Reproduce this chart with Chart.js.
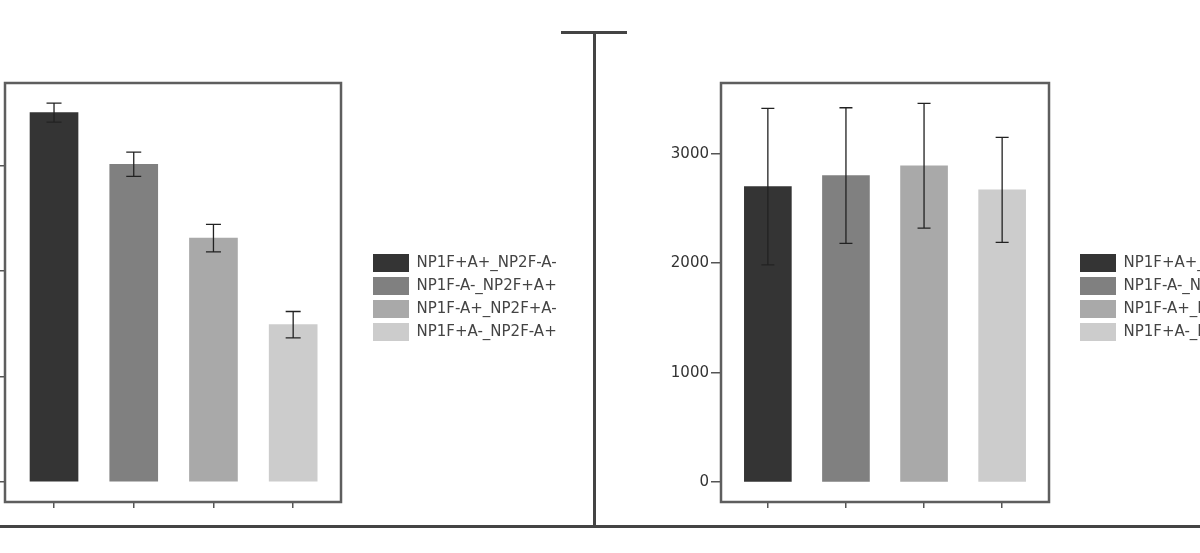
<!DOCTYPE html>
<html>
<head>
<meta charset="utf-8">
<script src="https://cdn.jsdelivr.net/npm/chart.js@4.4.1/dist/chart.umd.min.js"></script>
<style>
  html, body { margin: 0; padding: 0; background: #fff; }
  body { width: 1200px; height: 553px; overflow: hidden; position: relative; }
  canvas { position: absolute; top: 0; }
  #chartLeft { left: -70px; }
  #chartRight { left: 600px; }
  .rule { position: absolute; background: #444; }
</style>
</head>
<body>
<canvas id="chartLeft" width="650" height="553"></canvas>
<canvas id="chartRight" width="800" height="553"></canvas>
<div class="rule" style="left:561px;top:31px;width:66px;height:3px"></div>
<div class="rule" style="left:593px;top:31px;width:3px;height:496px"></div>
<div class="rule" style="left:0;top:525px;width:1200px;height:3px"></div>
<script>
// groupes (legende) et valeurs
const groups = ['NP1F+A+_NP2F-A-', 'NP1F-A-_NP2F+A+', 'NP1F-A+_NP2F+A-', 'NP1F+A-_NP2F-A+'];
const leftValues = [3500, 3010, 2310, 1490];
const leftErrors = [90, 115, 130, 125];
const rightValues = [2700, 2800, 2890, 2670];
const rightErrors = [715, 620, 570, 480];
const yTicks = [0, 1000, 2000, 3000];
const barColors = ['#343434', '#808080', '#a9a9a9', '#cccccc'];

Chart.defaults.font.family = "'DejaVu Sans', sans-serif";

// barres d'erreur (moyenne +/- erreur)
const errorBars = {
    id: 'errorBars',
    afterDatasetsDraw(chart, args, opts) {
        const { ctx } = chart;
        const y = chart.scales.y;
        ctx.save();
        ctx.strokeStyle = opts.color;
        ctx.lineWidth = opts.width;
        chart.data.datasets.forEach((ds, i) => {
            const bar = chart.getDatasetMeta(i).data[0];
            const v = ds.data[0].y;
            const e = ds.errors[0];
            const top = y.getPixelForValue(v + e);
            const bot = y.getPixelForValue(v - e);
            const h = opts.cap / 2;
            ctx.beginPath();
            ctx.moveTo(bar.x, top); ctx.lineTo(bar.x, bot);
            ctx.moveTo(bar.x - h, top); ctx.lineTo(bar.x + h, top);
            ctx.moveTo(bar.x - h, bot); ctx.lineTo(bar.x + h, bot);
            ctx.stroke();
        });
        ctx.restore();
    }
};

// cadre autour de la zone du graphique
const frame = {
    id: 'frame',
    afterDraw(chart, args, opts) {
        const { ctx, chartArea: a } = chart;
        ctx.save();
        ctx.strokeStyle = opts.color;
        ctx.lineWidth = opts.width;
        ctx.strokeRect(a.left, a.top, a.right - a.left, a.bottom - a.top);
        ctx.restore();
    }
};

function makeChart(id, values, errors, cfg) {
    const datasets = groups.map((g, i) => ({
        label: g,
        data: [{ x: i, y: values[i] }],
        errors: [errors[i]],
        backgroundColor: barColors[i],
        borderWidth: 0,
        barThickness: cfg.barWidth,
        grouped: false
    }));

    return new Chart(document.getElementById(id), {
        type: 'bar',
        data: { datasets: datasets },
        options: {
            responsive: false,
            animation: false,
            devicePixelRatio: 1,
            layout: { padding: { top: 83, bottom: 41, left: 0, right: cfg.padRight } },
            scales: {
                x: {
                    type: 'linear',
                    min: cfg.xMin,
                    max: cfg.xMax,
                    offset: false,
                    afterBuildTicks: axis => { axis.ticks = groups.map((g, i) => ({ value: i })); },
                    afterFit: axis => { axis.height = 10; },
                    ticks: { display: false },
                    grid: { offset: false, drawOnChartArea: false, tickLength: 6, color: '#555', lineWidth: 1.5 },
                    border: { display: false }
                },
                y: {
                    min: cfg.yMin,
                    max: cfg.yMax,
                    afterBuildTicks: axis => { axis.ticks = yTicks.map(v => ({ value: v })); },
                    afterFit: axis => { axis.width = cfg.yWidth; },
                    ticks: { color: '#333', font: { size: 15 }, padding: 2, callback: v => String(v) },
                    grid: { drawOnChartArea: false, tickLength: cfg.tickLen, color: '#555', lineWidth: 1.5 },
                    border: { display: false }
                },
                gap: {
                    type: 'linear',
                    position: 'right',
                    display: true,
                    afterFit: axis => { axis.width = cfg.gap; },
                    ticks: { display: false },
                    grid: { display: false },
                    border: { display: false }
                }
            },
            plugins: {
                legend: {
                    position: 'right',
                    align: 'center',
                    maxWidth: 189,
                    labels: { boxWidth: 36, boxHeight: 18, padding: 5, color: '#444', font: { size: 15 } }
                },
                tooltip: { enabled: false },
                errorBars: { color: '#222', width: 1.3, cap: cfg.cap },
                frame: { color: '#5e5e5e', width: 2.5 }
            }
        },
        plugins: [errorBars, frame]
    });
}

document.addEventListener('DOMContentLoaded', () => {
    makeChart('chartLeft', leftValues, leftErrors, {
        xMin: -0.615, xMax: 3.6, yMin: -190, yMax: 3780,
        yWidth: 75, tickLen: 6, gap: 27, padRight: 23, barWidth: 48, cap: 15
    });
    makeChart('chartRight', rightValues, rightErrors, {
        xMin: -0.6, xMax: 3.6, yMin: -182, yMax: 3646,
        yWidth: 121, tickLen: 10, gap: 26, padRight: 136, barWidth: 47, cap: 13
    });
});
</script>
</body>
</html>
